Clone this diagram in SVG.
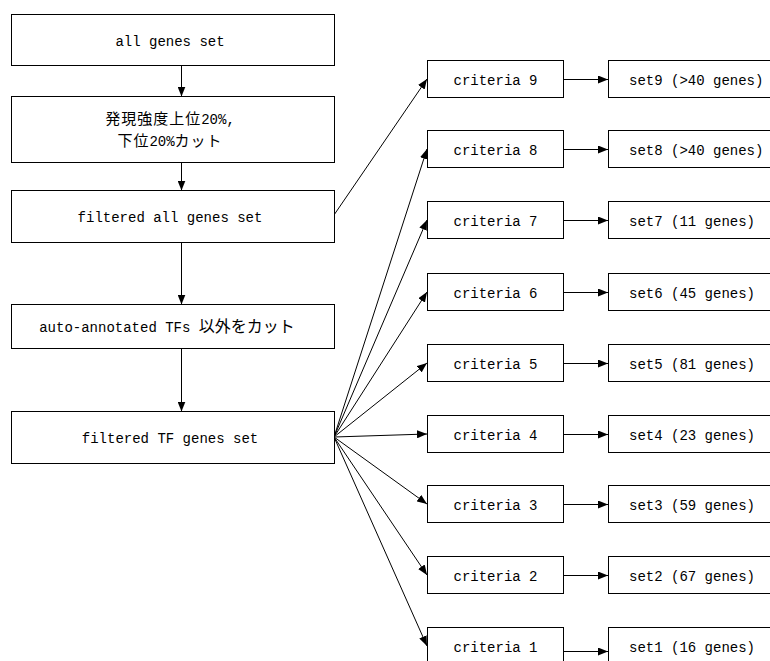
<svg xmlns="http://www.w3.org/2000/svg" width="770" height="661" viewBox="0 0 770 661">
<defs>
<marker id="ah" markerUnits="userSpaceOnUse" markerWidth="10" markerHeight="8" refX="10" refY="4" orient="auto" viewBox="0 0 10 8">
<path d="M0,0 L10,4 L0,8 z" fill="#000"/>
</marker>
<style>
.box{fill:#fff;stroke:#000;stroke-width:1}
.t{font-family:"Liberation Mono","Noto Sans CJK JP",monospace;font-size:14px;fill:#000}
.c{text-anchor:middle}
.j{font-family:"Noto Sans CJK JP",sans-serif;font-size:16px}
.j2{font-family:"Noto Sans CJK JP",sans-serif;font-size:15px;letter-spacing:1px}
.ln{stroke:#000;stroke-width:1;fill:none;marker-end:url(#ah)}
</style>
</defs>
<rect width="770" height="661" fill="#fff"/>

<g id="connectors">
<line class="ln" x1="181.5" y1="65.5" x2="181.5" y2="96.5"/>
<line class="ln" x1="181.5" y1="162.5" x2="181.5" y2="190.5"/>
<line class="ln" x1="181.5" y1="242.5" x2="181.5" y2="304.5"/>
<line class="ln" x1="181.5" y1="348.5" x2="181.5" y2="411.5"/>
<line class="ln" x1="334" y1="215" x2="427" y2="79"/>
<line class="ln" x1="334" y1="437" x2="427" y2="149"/>
<line class="ln" x1="334" y1="437" x2="427" y2="220"/>
<line class="ln" x1="334" y1="437" x2="427" y2="292"/>
<line class="ln" x1="334" y1="437" x2="427" y2="363"/>
<line class="ln" x1="334" y1="437" x2="427" y2="434"/>
<line class="ln" x1="334" y1="437" x2="427" y2="504"/>
<line class="ln" x1="334" y1="437" x2="427" y2="575"/>
<line class="ln" x1="334" y1="437" x2="427" y2="646"/>
<line class="ln" x1="564" y1="79.5" x2="608" y2="79.5"/>
<line class="ln" x1="564" y1="149.5" x2="608" y2="149.5"/>
<line class="ln" x1="564" y1="220.5" x2="608" y2="220.5"/>
<line class="ln" x1="564" y1="292.5" x2="608" y2="292.5"/>
<line class="ln" x1="564" y1="363.5" x2="608" y2="363.5"/>
<line class="ln" x1="564" y1="434.5" x2="608" y2="434.5"/>
<line class="ln" x1="564" y1="504.5" x2="608" y2="504.5"/>
<line class="ln" x1="564" y1="575.5" x2="608" y2="575.5"/>
<line class="ln" x1="562" y1="651.5" x2="608" y2="651.5"/>
</g>

<g id="all-genes">
<rect class="box" x="11.5" y="14.5" width="323" height="51"/>
<text class="t c" x="170" y="46">all genes set</text>
</g>
<g id="cut-expression">
<rect class="box" x="11.5" y="96.5" width="323" height="66"/>
<text class="t c" x="170" y="124"><tspan class="j2">発現強度上位</tspan>20%,</text>
<text class="t c" x="170" y="146"><tspan class="j2">下位</tspan>20%<tspan class="j2">カット</tspan></text>
</g>
<g id="filtered-all">
<rect class="box" x="11.5" y="190.5" width="323" height="52"/>
<text class="t c" x="170" y="222">filtered all genes set</text>
</g>
<g id="cut-tf">
<rect class="box" x="11.5" y="304.5" width="323" height="44"/>
<text class="t c" x="167" y="332">auto-annotated TFs <tspan class="j">以外をカット</tspan></text>
</g>
<g id="filtered-tf">
<rect class="box" x="11.5" y="411.5" width="323" height="52"/>
<text class="t c" x="170" y="443">filtered TF genes set</text>
</g>

<g id="criteria9"><rect class="box" x="427.5" y="60.5" width="136" height="37"/><text class="t c" x="495.5" y="85">criteria 9</text></g>
<g id="criteria8"><rect class="box" x="427.5" y="130.5" width="136" height="37"/><text class="t c" x="495.5" y="155">criteria 8</text></g>
<g id="criteria7"><rect class="box" x="427.5" y="201.5" width="136" height="37"/><text class="t c" x="495.5" y="226">criteria 7</text></g>
<g id="criteria6"><rect class="box" x="427.5" y="273.5" width="136" height="37"/><text class="t c" x="495.5" y="298">criteria 6</text></g>
<g id="criteria5"><rect class="box" x="427.5" y="344.5" width="136" height="37"/><text class="t c" x="495.5" y="369">criteria 5</text></g>
<g id="criteria4"><rect class="box" x="427.5" y="415.5" width="136" height="37"/><text class="t c" x="495.5" y="440">criteria 4</text></g>
<g id="criteria3"><rect class="box" x="427.5" y="485.5" width="136" height="37"/><text class="t c" x="495.5" y="510">criteria 3</text></g>
<g id="criteria2"><rect class="box" x="427.5" y="556.5" width="136" height="37"/><text class="t c" x="495.5" y="581">criteria 2</text></g>
<g id="criteria1"><rect class="box" x="427.5" y="627.5" width="136" height="40"/><text class="t c" x="495.5" y="652">criteria 1</text></g>

<g id="set9"><rect class="box" x="608.5" y="60.5" width="170" height="37"/><text class="t" x="629" y="85">set9 (&gt;40 genes)</text></g>
<g id="set8"><rect class="box" x="608.5" y="130.5" width="170" height="37"/><text class="t" x="629" y="155">set8 (&gt;40 genes)</text></g>
<g id="set7"><rect class="box" x="608.5" y="201.5" width="170" height="37"/><text class="t" x="629" y="226">set7 (11 genes)</text></g>
<g id="set6"><rect class="box" x="608.5" y="273.5" width="170" height="37"/><text class="t" x="629" y="298">set6 (45 genes)</text></g>
<g id="set5"><rect class="box" x="608.5" y="344.5" width="170" height="37"/><text class="t" x="629" y="369">set5 (81 genes)</text></g>
<g id="set4"><rect class="box" x="608.5" y="415.5" width="170" height="37"/><text class="t" x="629" y="440">set4 (23 genes)</text></g>
<g id="set3"><rect class="box" x="608.5" y="485.5" width="170" height="37"/><text class="t" x="629" y="510">set3 (59 genes)</text></g>
<g id="set2"><rect class="box" x="608.5" y="556.5" width="170" height="37"/><text class="t" x="629" y="581">set2 (67 genes)</text></g>
<g id="set1"><rect class="box" x="608.5" y="627.5" width="170" height="40"/><text class="t" x="629" y="652">set1 (16 genes)</text></g>
</svg>
